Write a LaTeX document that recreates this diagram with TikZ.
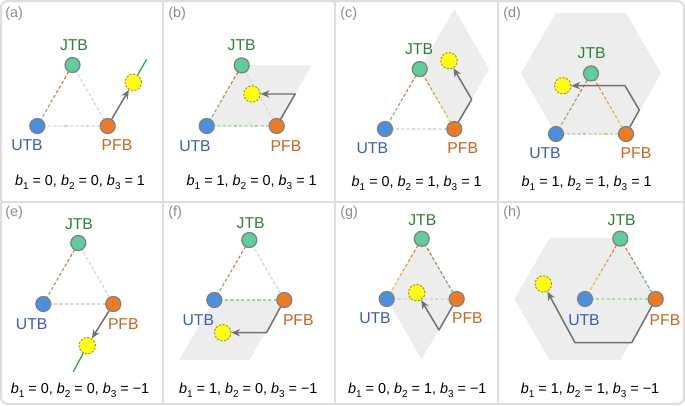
\documentclass[tikz,border=0pt]{standalone}
\usepackage{fontspec}
\setmainfont{Liberation Sans}
\usetikzlibrary{calc,arrows.meta}
\pgfdeclarelayer{back}
\pgfdeclarelayer{bg}
\pgfsetlayers{back,bg,main}
\definecolor{frame}{HTML}{DEDEDE}
\definecolor{region}{HTML}{EDEDED}
\definecolor{cJf}{HTML}{5CCF9C}
\definecolor{cUf}{HTML}{4A90E2}
\definecolor{cPf}{HTML}{F07A22}
\definecolor{cJt}{HTML}{2F7F3B}
\definecolor{cUt}{HTML}{3A5BC0}
\definecolor{cPt}{HTML}{C8651E}
\definecolor{ring}{HTML}{808080}
\definecolor{yfill}{HTML}{FFFF10}
\definecolor{yring}{HTML}{A89A30}
\definecolor{arrowc}{HTML}{6F6F6F}
\definecolor{gline}{HTML}{1FAF4F}
\definecolor{eR}{HTML}{E2683E}
\definecolor{eG}{HTML}{7CC98A}
\definecolor{eY}{HTML}{D9E04A}
\definecolor{eT}{HTML}{4DC2B2}
\definecolor{eL}{HTML}{9ADB8E}
\definecolor{eC}{HTML}{80D8D0}
\definecolor{eV}{HTML}{B8E060}
\definecolor{eN}{HTML}{D6D6D6}
\definecolor{tagc}{HTML}{8C8C8C}
\newcommand\bsub[1]{\raisebox{-0.5ex}{\fontsize{7.5}{8}\selectfont #1}}
\newcommand\bb[1]{\textit{b}\bsub{#1}}
\newcommand\mns{\char"2212\relax}
\newcommand\gradedge[4]{%
  \foreach \k in {0,...,12}{%
    \pgfmathsetmacro\ta{\k/13}%
    \pgfmathsetmacro\tb{(\k+0.6)/13}%
    \pgfmathtruncatemacro\pc{round(100-100*(\k+0.3)/13)}%
    \colorlet{gtmp}{#3!\pc!#4}%
    \draw[gtmp, line width=0.9pt] ($(#1.center)!\ta!(#2.center)$) -- ($(#1.center)!\tb!(#2.center)$);
  }}
\tikzset{
  ball/.style={circle, draw=ring, line width=0.95pt, minimum size=11.2pt, inner sep=0pt},
  jball/.style={ball, fill=cJf},
  uball/.style={ball, fill=cUf},
  pball/.style={ball, fill=cPf},
  yball/.style={circle, draw=yring, fill=yfill, dash pattern=on 1.6pt off 1.1pt, line width=0.8pt, minimum size=12.3pt, inner sep=0pt},
  lab/.style={inner sep=0pt, font=\fontsize{11.8}{14}\selectfont},
  jlab/.style={lab, text=cJt},
  ulab/.style={lab, text=cUt},
  flab/.style={lab, text=cPt},
  tag/.style={anchor=west, inner sep=0pt, text=tagc, font=\fontsize{10.8}{12}\selectfont},
  eqn/.style={anchor=base, inner sep=0pt, font=\fontsize{10.8}{13}\selectfont},
  move/.style={draw=arrowc, line width=1.1pt, line join=round, -{Stealth[length=6.5pt,width=5.5pt]}},
  area/.style={fill=region, draw=none},
  sepline/.style={draw=frame, line width=1.2pt},
  trail/.style={draw=gline, line width=1pt},
}
\begin{document}
\begin{tikzpicture}[x=0.75pt, y=-0.75pt]
\useasboundingbox (0,0) rectangle (685,405);
% ---------------- panel (a)
\node[uball] (aU) at (37.3,126) {};
\node[pball] (aP) at (107.7,126) {};
\node[jball] (aJ) at (72.5,65) {};
\node[yball] (aY) at (133.3,82.3) {};
\coordinate (aT) at (146.7,59.3);
\node[jlab] (aJl) at (74,45) {JTB};
\node[ulab] (aUl) at (27,145) {UTB};
\node[flab] (aPl) at (117,145) {PFB};
\node[tag] (aTag) at (5,14) {(a)};
\node[eqn] (aEq) at (80,185.7) {\bb{1} = 0, \bb{2} = 0, \bb{3} = 1};
\draw[move] (aP) -- (aY);
\draw[trail] (aY) -- (aT);
% ---------------- panel (b)
\node[uball] (bU) at (206.7,126) {};
\node[pball] (bP) at (276.7,126) {};
\node[jball] (bJ) at (241.7,65.4) {};
\node[yball] (bY) at (252,94) {};
\coordinate (bK) at (295.2,94);
\node[jlab] (bJl) at (241.7,45) {JTB};
\node[ulab] (bUl) at (195,145.7) {UTB};
\node[flab] (bPl) at (286,145.7) {PFB};
\node[tag] (bTag) at (168,14) {(b)};
\node[eqn] (bEq) at (251.7,185.7) {\bb{1} = 1, \bb{2} = 0, \bb{3} = 1};
\draw[move] (bP) -- (bK) -- (bY);
% ---------------- panel (c)
\node[uball] (cU) at (385,129) {};
\node[pball] (cP) at (454.3,129) {};
\node[jball] (cJ) at (419.7,69) {};
\node[yball] (cY) at (449,60.7) {};
\coordinate (cK) at (471.7,99.3);
\node[jlab] (cJl) at (419,49) {JTB};
\node[ulab] (cUl) at (372.3,148.3) {UTB};
\node[flab] (cPl) at (462.7,148.3) {PFB};
\node[tag] (cTag) at (340,14) {(c)};
\node[eqn] (cEq) at (416.7,186.2) {\bb{1} = 0, \bb{2} = 1, \bb{3} = 1};
\draw[move] (cP) -- (cK) -- (cY);
% ---------------- panel (d)
\node[uball] (dU) at (556,134) {};
\node[pball] (dP) at (626,134) {};
\node[jball] (dJ) at (591,73.4) {};
\node[yball] (dY) at (562.7,85.7) {};
\coordinate (dK1) at (639.3,110);
\coordinate (dK2) at (625,85.7);
\node[jlab] (dJl) at (591.7,52.7) {JTB};
\node[ulab] (dUl) at (545,153.3) {UTB};
\node[flab] (dPl) at (636,153.3) {PFB};
\node[tag] (dTag) at (503,14) {(d)};
\node[eqn] (dEq) at (586.7,186.2) {\bb{1} = 1, \bb{2} = 1, \bb{3} = 1};
\draw[move] (dP) -- (dK1) -- (dK2) -- (dY);
% ---------------- panel (e)
\node[uball] (eU) at (43.3,304) {};
\node[pball] (eP) at (113.3,304) {};
\node[jball] (eJ) at (78.3,243) {};
\node[yball] (eY) at (87.3,345.7) {};
\coordinate (eT) at (73.3,371.7);
\node[jlab] (eJl) at (79,224) {JTB};
\node[ulab] (eUl) at (31.7,324) {UTB};
\node[flab] (ePl) at (123.3,324) {PFB};
\node[tag] (eTag) at (5,212.5) {(e)};
\node[eqn] (eEq) at (80,393.3) {\bb{1} = 0, \bb{2} = 0, \bb{3} = \mns1};
\draw[move] (eP) -- (eY);
\draw[trail] (eY) -- (eT);
% ---------------- panel (f)
\node[uball] (fU) at (214.3,300) {};
\node[pball] (fP) at (284.3,300) {};
\node[jball] (fJ) at (249.3,240) {};
\node[yball] (fY) at (222.7,332.7) {};
\coordinate (fK) at (266.5,332.7);
\node[jlab] (fJl) at (250.7,223.3) {JTB};
\node[ulab] (fUl) at (198.3,320) {UTB};
\node[flab] (fPl) at (298.3,320) {PFB};
\node[tag] (fTag) at (168,212.5) {(f)};
\node[eqn] (fEq) at (248.3,393.3) {\bb{1} = 1, \bb{2} = 0, \bb{3} = \mns1};
\draw[move] (fP) -- (fK) -- (fY);
% ---------------- panel (g)
\node[uball] (gU) at (386.7,299) {};
\node[pball] (gP) at (456.7,299) {};
\node[jball] (gJ) at (421.7,238.8) {};
\node[yball] (gY) at (416.7,292.7) {};
\coordinate (gK) at (439,330);
\node[jlab] (gJl) at (422.3,220) {JTB};
\node[ulab] (gUl) at (375,318.3) {UTB};
\node[flab] (gPl) at (467.3,318.3) {PFB};
\node[tag] (gTag) at (340,212.5) {(g)};
\node[eqn] (gEq) at (417.3,393.3) {\bb{1} = 0, \bb{2} = 1, \bb{3} = \mns1};
\draw[move] (gP) -- (gK) -- (gY);
% ---------------- panel (h)
\node[uball] (hU) at (585,299) {};
\node[pball] (hP) at (655.7,299) {};
\node[jball] (hJ) at (620.3,238.6) {};
\node[yball] (hY) at (543.3,284) {};
\coordinate (hK1) at (631.7,342.7);
\coordinate (hK2) at (575,342.7);
\node[jlab] (hJl) at (621.7,220) {JTB};
\node[ulab] (hUl) at (584,320) {UTB};
\node[flab] (hPl) at (665,320) {PFB};
\node[tag] (hTag) at (503,212.5) {(h)};
\node[eqn] (hEq) at (590,393.3) {\bb{1} = 1, \bb{2} = 1, \bb{3} = \mns1};
\draw[move] (hP) -- (hK1) -- (hK2) -- (hY);
% ---------------- frame
\begin{pgfonlayer}{back}
\fill[white, draw=frame, line width=1.6pt, rounded corners=5pt] (1,1) rectangle (684,404);
\draw[sepline] (163,1) -- (163,404);
\draw[sepline] (335,1) -- (335,404);
\draw[sepline] (498,1) -- (498,404);
\draw[sepline] (1,202) -- (684,202);
\end{pgfonlayer}
% ---------------- regions and edges
\begin{pgfonlayer}{bg}
\fill[area] (bU.center) -- (bP.center) -- ($(bP.center)+(bJ.center)-(bU.center)$) -- (bJ.center) -- cycle;
\fill[area] (cJ.center) -- (cP.center) -- ($(cP.center)+(cJ.center)-(cU.center)$) -- ($(cJ.center)+(cJ.center)-(cU.center)$) -- cycle;
\fill[area] ($(dJ.center)+(0:70)$) \foreach \a in {60,120,...,300}{ -- ($(dJ.center)+(\a:70)$)} -- cycle;
\fill[area] (fU.center) -- (fP.center) -- ($(fP.center)+(fU.center)-(fJ.center)$) -- ($(fU.center)+(fU.center)-(fJ.center)$) -- cycle;
\fill[area] (gU.center) -- (gJ.center) -- (gP.center) -- ($(gU.center)+(gP.center)-(gJ.center)$) -- cycle;
\fill[area] ($(hU.center)+(0:70.5)$) \foreach \a in {60,120,...,300}{ -- ($(hU.center)+(\a:70.5)$)} -- cycle;
\gradedge{aU}{aJ}{eG}{eR}\gradedge{aJ}{aP}{eN}{eN}\gradedge{aU}{aP}{eN}{eN}
\gradedge{bU}{bJ}{eG}{eR}\gradedge{bJ}{bP}{eN}{eN}\gradedge{bU}{bP}{eL}{eL}
\gradedge{cU}{cJ}{eG}{eR}\gradedge{cJ}{cP}{eR}{eY}\gradedge{cU}{cP}{eN}{eN}
\gradedge{dU}{dJ}{eG}{eR}\gradedge{dJ}{dP}{eR}{eY}\gradedge{dU}{dP}{eC}{eV}
\gradedge{eU}{eJ}{eG}{eR}\gradedge{eJ}{eP}{eN}{eN}\gradedge{eU}{eP}{eN}{eN}
\gradedge{fU}{fJ}{eG}{eR}\gradedge{fJ}{fP}{eN}{eN}\gradedge{fU}{fP}{eL}{eL}
\gradedge{gU}{gJ}{eY}{eR}\gradedge{gJ}{gP}{eR}{eT}\gradedge{gU}{gP}{eN}{eN}
\gradedge{hU}{hJ}{eY}{eR}\gradedge{hJ}{hP}{eR}{eT}\gradedge{hU}{hP}{eL}{eL}
\end{pgfonlayer}
\end{tikzpicture}
\end{document}
